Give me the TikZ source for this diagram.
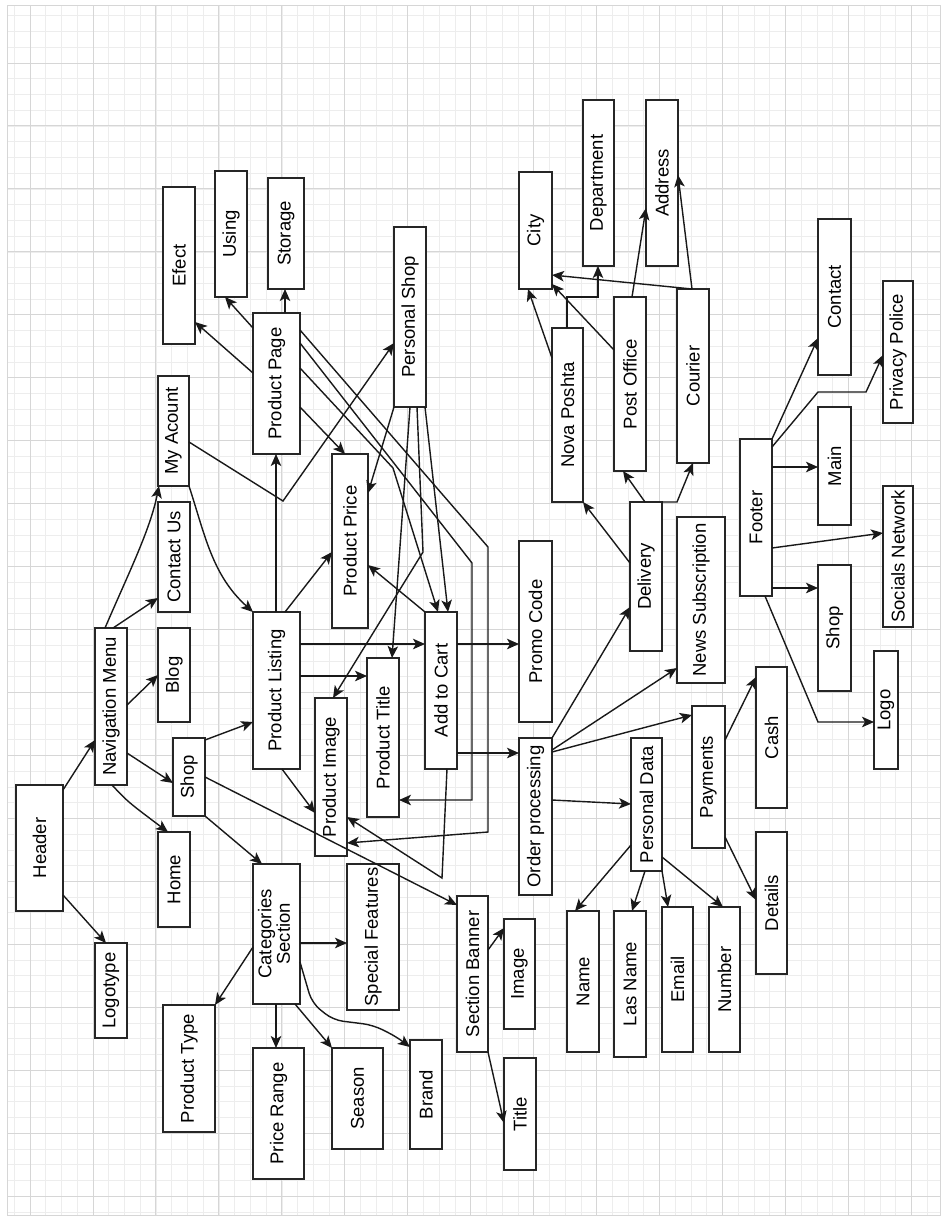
\documentclass[tikz,border=0pt]{standalone}
\usepackage{fontspec}
\setmainfont{Liberation Sans}
\usetikzlibrary{arrows.meta}
\newcommand\bx[6]{%
  \pgfmathsetmacro\bxw{#4-#2}\pgfmathsetmacro\bxh{#5-#3}%
  \node[box, minimum width=\bxw pt, minimum height=\bxh pt] (#1) at ({(#2+#4)/2},{(#3+#5)/2}) {\rotatebox{90}{#6}};}
\begin{document}
\begin{tikzpicture}[x=1pt,y=-1pt,
  box/.style={draw=black!85, line width=1.6pt, fill=white, inner sep=0pt, outer sep=0pt, font=\fontsize{18.5}{17}\selectfont},
  arr/.style={-{Stealth[length=12pt,width=10.5pt,inset=3pt]}, line width=1.4pt, draw=black!90},
  gminor/.style={draw=black!7, line width=0.6pt},
  gmajor/.style={draw=black!16, line width=0.9pt}]
\useasboundingbox (0,0) rectangle (944,1219);
\fill[white] (0,0) rectangle (944,1219);
% grid
\foreach \k in {-1,...,57} \draw[gminor] ({30+\k*15.7375},5) -- ({30+\k*15.7375},1215);
\foreach \k in {1,...,77} \draw[gminor] (7,{\k*15.7375}) -- (940,{\k*15.7375});
\foreach \k in {0,...,14} \draw[gmajor] ({30+\k*62.95},5) -- ({30+\k*62.95},1215);
\foreach \k in {1,...,19} \draw[gmajor] (7,{\k*62.95}) -- (940,{\k*62.95});
\draw[gmajor] (7,5) rectangle (940,1215);
% nodes
\bx{header}{16}{785}{63}{911}{Header}
\bx{logotype}{95}{943}{127}{1038}{Logotype}
\bx{nav}{95}{628}{127}{785}{Navigation Menu}
\bx{home}{158}{832}{190}{927}{Home}
\bx{blog}{158}{628}{190}{722}{Blog}
\bx{contactus}{158}{502}{190}{612}{Contact Us}
\bx{myacc}{158}{376}{189}{486}{My Acount}
\bx{shop}{173}{738}{205}{816}{Shop}
\bx{efect}{163}{187}{195}{344}{Efect}
\bx{using}{215}{171}{247}{297}{Using}
\bx{storage}{268}{178}{304}{289}{Storage}
\bx{ppage}{253}{313}{300}{454}{Product Page}
\bx{plist}{253}{612}{300}{769}{Product Listing}
\bx{cats}{253}{864}{300}{1004}{\begin{tabular}{@{}c@{}}Categories\\Section\end{tabular}}
\bx{ptype}{163}{1005}{215}{1132}{Product Type}
\bx{prange}{253}{1048}{304}{1179}{Price Range}
\bx{season}{332}{1048}{383}{1149}{Season}
\bx{brand}{410}{1040}{442}{1149}{Brand}
\bx{special}{347}{864}{399}{1010}{Special Features}
\bx{pprice}{332}{454}{368}{628}{Product Price}
\bx{pimage}{315}{698}{347}{856}{Product Image}
\bx{ptitle}{367}{658}{399}{817}{Product Title}
\bx{pshop}{394}{227}{426}{407}{Personal Shop}
\bx{cart}{425}{612}{457}{769}{Add to Cart}
\bx{banner}{457}{896}{488}{1052}{Section Banner}
\bx{image}{504}{919}{535}{1029}{Image}
\bx{title}{504}{1058}{536}{1170}{Title}
\bx{promo}{519}{541}{552}{722}{Promo Code}
\bx{order}{519}{738}{552}{895}{Order processing}
\bx{city}{519}{172}{552}{289}{City}
\bx{dept}{583}{100}{614}{266}{Department}
\bx{address}{646}{100}{678}{266}{Address}
\bx{nova}{552}{328}{583}{502}{Nova Poshta}
\bx{post}{614}{297}{646}{471}{Post Office}
\bx{courier}{677}{289}{709}{463}{Courier}
\bx{delivery}{630}{502}{662}{651}{Delivery}
\bx{news}{677}{517}{725}{683}{News Subscription}
\bx{pdata}{631}{738}{662}{871}{Personal Data}
\bx{payments}{692}{706}{725}{848}{Payments}
\bx{cash}{756}{667}{787}{808}{Cash}
\bx{details}{756}{832}{787}{974}{Details}
\bx{name}{567}{911}{599}{1052}{Name}
\bx{lasname}{614}{911}{646}{1057}{Las Name}
\bx{email}{662}{907}{693}{1052}{Email}
\bx{number}{709}{907}{740}{1052}{Number}
\bx{footer}{740}{439}{772}{596}{Footer}
\bx{contact}{818}{219}{851}{375}{Contact}
\bx{privacy}{883}{281}{913}{423}{Privacy Police}
\bx{main}{818}{407}{851}{525}{Main}
\bx{socials}{883}{486}{913}{627}{Socials Network}
\bx{fshop}{818}{565}{851}{691}{Shop}
\bx{logo}{874}{651}{898}{769}{Logo}
% edges
\draw[arr] (header.east |- 0,790) -- (nav.west |- 0,740);
\draw[arr] (header.east |- 0,895) -- (logotype.north -| 106,0);
\draw[arr] (nav.north -| 105,0) .. controls (130,570) and (150,530) .. (myacc.south -| 159,0);
\draw[arr] (nav.north -| 113,0) -- (contactus.west |- 0,598);
\draw[arr] (nav.east |- 0,705) -- (blog.west |- 0,675);
\draw[arr] (nav.east |- 0,753) -- (shop.west |- 0,783);
\draw[arr] (nav.south -| 112,0) .. controls (128,802) .. (home.north -| 168,0);
\draw[arr] (shop.east |- 0,740) -- (plist.west |- 0,722);
\draw[arr] (shop.south east) -- (cats.north -| 262,0);
\draw[arr] (shop.east |- 0,777) -- (banner.west |- 0,905);
\draw[arr] (myacc.south east) .. controls (205,535) and (212,575) .. (plist.north west);
\draw[arr] (myacc.east |- 0,442) -- (283,501) -- (pshop.west |- 0,343);
\draw[arr] (plist.north -| 276,0) -- (ppage.south -| 276,0);
\draw[arr] (plist.north -| 285,0) -- (pprice.west |- 0,552);
\draw[arr] (plist.east |- 0,644) -- (cart.west |- 0,644);
\draw[arr] (plist.east |- 0,676) -- (ptitle.west |- 0,676);
\draw[arr] (plist.south -| 282,0) -- (pimage.west |- 0,813);
\draw[arr] (ppage.north -| 285,0) -- (storage.south -| 285,0);
\draw[arr] (ppage.west |- 0,328) -- (using.south -| 225,0);
\draw[arr] (ppage.west |- 0,373) -- (efect.east |- 0,322);
\draw[arr] (ppage.east |- 0,407) -- (pprice.north -| 345,0);
\draw[arr] (ppage.east |- 0,330) -- (488,547) -- (488,832) -- (pimage.east |- 0,843);
\draw[arr] (ppage.east |- 0,343) -- (472,563) -- (472,800) -- (ptitle.east |- 0,800);
\draw[arr] (ppage.east |- 0,368) -- (393,468) -- (cart.north -| 438,0);
\draw[arr] (pshop.south -| 394,0) -- (pprice.east |- 0,493);
\draw[arr] (pshop.south -| 410,0) -- (ptitle.north -| 392,0);
\draw[arr] (pshop.south -| 417,0) -- (423,552) -- (pimage.north -| 333,0);
\draw[arr] (pshop.south -| 425,0) -- (cart.north -| 448,0);
\draw[arr] (cart.east |- 0,644) -- (promo.west |- 0,644);
\draw[arr] (cart.east |- 0,753) -- (order.west |- 0,753);
\draw[arr] (cart.north west) -- (pprice.east |- 0,565);
\draw[arr] (cart.south -| 447,0) -- (442,878) -- (pimage.east |- 0,817);
\draw[arr] (order.north east) -- (delivery.west |- 0,607);
\draw[arr] (order.east |- 0,750) -- (news.west |- 0,668);
\draw[arr] (order.east |- 0,752) -- (payments.west |- 0,715);
\draw[arr] (order.east |- 0,800) -- (pdata.west |- 0,804);
\draw[arr] (delivery.west |- 0,563) -- (nova.south east);
\draw[arr] (delivery.north -| 645,0) -- (post.south -| 623,0);
\draw[arr] (delivery.north east) -- (677,502) -- (courier.south -| 693,0);
\draw[arr] (nova.west |- 0,358) -- (city.south -| 528,0);
\draw[arr] (nova.north -| 567,0) -- (567,297) -- (598,297) -- (dept.south -| 598,0);
\draw[arr] (post.west |- 0,350) -- (city.east |- 0,284);
\draw[arr] (post.north -| 632,0) -- (address.west |- 0,208);
\draw[arr] (courier.north -| 692,0) -- (city.east |- 0,275);
\draw[arr] (courier.north -| 692,0) -- (address.east |- 0,175);
\draw[arr] (payments.east |- 0,740) -- (cash.west |- 0,677);
\draw[arr] (payments.east |- 0,837) -- (details.west |- 0,900);
\draw[arr] (pdata.west |- 0,845) -- (name.north -| 575,0);
\draw[arr] (pdata.south -| 645,0) -- (lasname.north -| 632,0);
\draw[arr] (pdata.south east) -- (email.north -| 668,0);
\draw[arr] (pdata.east |- 0,857) -- (number.north -| 723,0);
\draw[arr] (banner.east |- 0,950) -- (image.west |- 0,928);
\draw[arr] (banner.south east) -- (title.west |- 0,1123);
\draw[arr] (footer.north east) -- (contact.west |- 0,338);
\draw[arr] (footer.east |- 0,447) -- (818,392) -- (866,392) -- (privacy.west |- 0,355);
\draw[arr] (footer.east |- 0,467) -- (main.west |- 0,467);
\draw[arr] (footer.east |- 0,548) -- (socials.west |- 0,533);
\draw[arr] (footer.east |- 0,588) -- (fshop.west |- 0,588);
\draw[arr] (footer.south -| 765,0) -- (818,722) -- (logo.west |- 0,722);
\draw[arr] (cats.east |- 0,943) -- (special.west |- 0,943);
\draw[arr] (cats.west |- 0,947) -- (ptype.north east);
\draw[arr] (cats.south -| 276,0) -- (prange.north -| 276,0);
\draw[arr] (cats.south -| 295,0) -- (season.north west);
\draw[arr, rounded corners=10pt] (cats.east |- 0,962) -- (312,1003) -- (333,1020) -- (373,1025) -- (397,1037) -- (brand.west |- 0,1047);
\end{tikzpicture}
\end{document}
